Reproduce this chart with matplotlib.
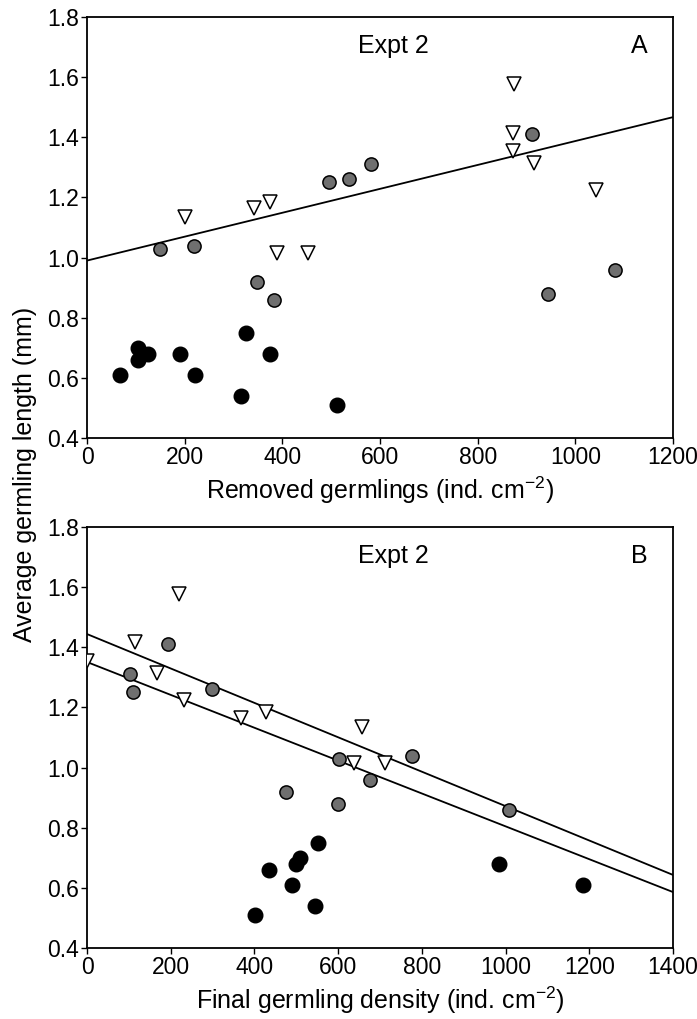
import matplotlib
matplotlib.use("Agg")
import matplotlib.pyplot as plt
import numpy as np

plt.rcParams['font.family'] = ['Liberation Sans', 'DejaVu Sans']
plt.rcParams['mathtext.default'] = 'regular'

# ---- Panel A: removed germlings ----
a_black_x = [67, 105, 105, 125, 190, 222, 326, 374, 315, 511]
a_black_y = [0.61, 0.70, 0.66, 0.68, 0.68, 0.61, 0.75, 0.68, 0.54, 0.51]
a_gray_x = [149, 219, 348, 382, 495, 536, 581, 912, 945, 1082]
a_gray_y = [1.03, 1.04, 0.92, 0.86, 1.25, 1.26, 1.31, 1.41, 0.88, 0.96]
a_tri_x = [200, 341, 374, 389, 452, 875, 873, 873, 916, 1043]
a_tri_y = [1.135, 1.165, 1.185, 1.015, 1.015, 1.577, 1.414, 1.354, 1.315, 1.225]
a_line_x = [0, 1200]
a_line_y = [0.99, 1.467]

# ---- Panel B: final germling density ----
b_black_x = [551, 508, 500, 434, 489, 544, 401, 985, 1185]
b_black_y = [0.75, 0.70, 0.68, 0.66, 0.61, 0.54, 0.51, 0.68, 0.61]
b_gray_x = [193, 103, 110, 298, 603, 677, 476, 599, 777, 1009]
b_gray_y = [1.41, 1.31, 1.25, 1.26, 1.03, 0.96, 0.92, 0.88, 1.04, 0.86]
b_tri_x = [219, 114, 0, 167, 231, 369, 427, 658, 639, 711]
b_tri_y = [1.576, 1.416, 1.355, 1.315, 1.225, 1.165, 1.185, 1.135, 1.015, 1.015]
b_line1_x = [0, 1400]
b_line1_y = [1.444, 0.643]
b_line2_x = [0, 1400]
b_line2_y = [1.351, 0.586]

W, H = 697, 1019
fig = plt.figure(figsize=(W / 100, H / 100), dpi=100)
left = 87 / W
width = (673 - 87) / W
axA = fig.add_axes([left, 1 - 438 / H, width, 421 / H])
axB = fig.add_axes([left, 1 - 948 / H, width, 421 / H])

gray = '#6f6f6f'
fs_tick = 16.5
fs_lab = 18
fs_txt = 18


def style(ax, xmax, xlabel, tag):
    ax.set_ylim(0.4, 1.8)
    ax.set_xlim(0, xmax)
    ax.set_yticks(np.arange(0.4, 1.81, 0.2))
    ax.set_yticklabels([f'{v:.1f}' for v in np.arange(0.4, 1.81, 0.2)])
    ax.set_xticks(np.arange(0, xmax + 1, 200))
    ax.tick_params(direction='out', length=4, width=1.0, labelsize=fs_tick, pad=2)
    for s in ax.spines.values():
        s.set_linewidth(1.3)
    ax.set_xlabel(xlabel, fontsize=fs_lab, labelpad=4)
    ax.text(0.523, 0.931, 'Expt 2', transform=ax.transAxes, fontsize=fs_txt,
            ha='center', va='center')
    ax.text(0.943, 0.931, tag, transform=ax.transAxes, fontsize=fs_txt,
            ha='center', va='center')


def points(ax, bx, by, gx, gy, tx, ty):
    ax.plot(tx, ty, linestyle='none', marker='v', ms=10, mfc='white',
            mec='black', mew=1.1, zorder=3)
    ax.plot(gx, gy, linestyle='none', marker='o', ms=9.5, mfc=gray,
            mec='black', mew=1.1, zorder=3)
    ax.plot(bx, by, linestyle='none', marker='o', ms=10.5, mfc='black',
            mec='black', mew=1.0, zorder=3)


axA.plot(a_line_x, a_line_y, color='black', lw=1.3, zorder=2)
points(axA, a_black_x, a_black_y, a_gray_x, a_gray_y, a_tri_x, a_tri_y)
style(axA, 1200, r'Removed germlings (ind. cm$^{-2}$)', 'A')

axB.plot(b_line1_x, b_line1_y, color='black', lw=1.3, zorder=2)
axB.plot(b_line2_x, b_line2_y, color='black', lw=1.3, zorder=2)
points(axB, b_black_x, b_black_y, b_gray_x, b_gray_y, b_tri_x, b_tri_y)
style(axB, 1400, r'Final germling density (ind. cm$^{-2}$)', 'B')

fig.text(25 / W, 1 - 474 / H, 'Average germling length (mm)', rotation=90,
         fontsize=fs_lab, ha='center', va='center')

fig.savefig('out.png', dpi=100)
